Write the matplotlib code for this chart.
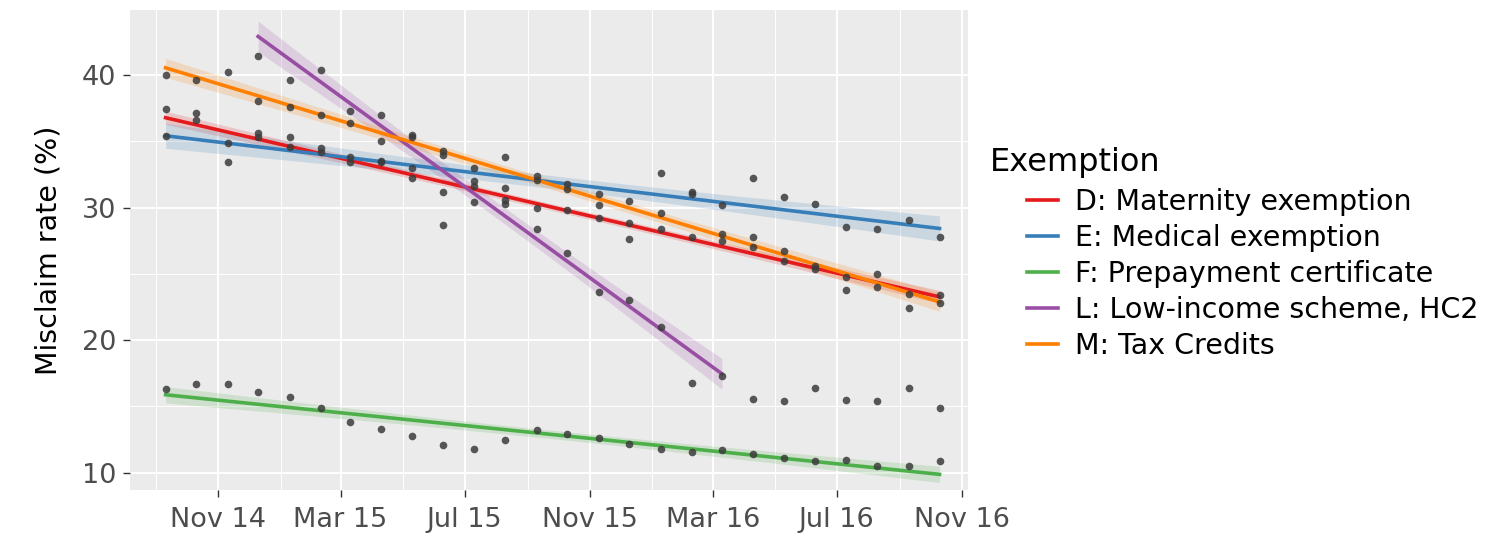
import numpy as np
import pandas as pd
import matplotlib
matplotlib.use("Agg")
import matplotlib.pyplot as plt
import matplotlib.dates as mdates
from matplotlib.lines import Line2D

# Monthly observation dates (Sep 2014 - Oct 2016)
months = pd.date_range("2014-09-01", periods=26, freq="MS") + pd.Timedelta(days=9)

nan = np.nan
# Misclaim rate (%) by exemption category
maternity = [37.4, 36.6, 33.4, 35.6, 35.3, 34.2, 33.8, 33.4, 32.2, 31.2,
             31.6, 30.3, 30.0, 29.8, 29.2, 28.8, 28.4, 27.8, 28.0, 27.0,
             26.0, 25.6, 24.8, 24.0, 23.5, 22.8]
medical = [35.4, 37.1, 34.9, 35.3, 34.6, 34.5, 33.4, 33.5, 33.0, 28.7,
           32.0, 31.5, 32.1, 31.4, 31.0, 30.5, 32.6, 31.2, 30.2, 32.2,
           30.8, 30.3, 28.5, 28.4, 29.1, 27.8]
prepayment = [16.3, 16.7, 16.7, 16.1, 15.7, 14.9, 13.8, 13.3, 12.8, 12.1,
              11.8, 12.5, 13.2, 12.9, 12.6, 12.2, 11.8, 11.6, 11.7, 11.4,
              11.1, 10.9, 11.0, 10.5, 10.5, 10.9]
low_income = [nan, nan, nan, 41.4, 39.6, 40.4, 37.3, 37.0, 35.5, 34.0,
              30.4, 30.6, 28.4, 26.6, 23.6, 23.0, 21.0, 16.8, 17.3, 15.6,
              15.4, 16.4, 15.5, 15.4, 16.4, 14.9]
tax_credits = [40.0, 39.6, 40.2, 38.0, 37.6, 37.0, 36.4, 35.0, 35.3, 34.3,
               33.0, 33.8, 32.4, 31.8, 30.2, 27.6, 29.6, 31.0, 27.5, 27.8,
               26.7, 25.4, 23.8, 25.0, 22.4, 23.4]

labels = ["D: Maternity exemption", "E: Medical exemption",
          "F: Prepayment certificate", "L: Low-income scheme, HC2",
          "M: Tax Credits"]
series = [maternity, medical, prepayment, low_income, tax_credits]
colors = ["#E41A1C", "#377EB8", "#4DAF4A", "#984EA3", "#FF7F00"]
# last date used for each linear trend (low-income trend stops at Mar 2016)
trend_end = [None, None, None, pd.Timestamp("2016-03-31"), None]

tick_dates = pd.date_range("2014-11-01", "2016-11-01", freq="4MS")
tick_labels = ["Nov 14", "Mar 15", "Jul 15", "Nov 15", "Mar 16", "Jul 16", "Nov 16"]

fig = plt.figure(figsize=(15.04, 5.33), dpi=100)
ax = fig.add_axes([130 / 1504, 43 / 533, 838 / 1504, 480 / 533])
ax.set_facecolor("#EBEBEB")
for s in ax.spines.values():
    s.set_visible(False)

xnum_all = mdates.date2num(months)

for vals, col, end in zip(series, colors, trend_end):
    y = np.asarray(vals, dtype=float)
    ok = ~np.isnan(y)
    ax.plot(months[ok], y[ok], "o", ms=5.5, color="#3C3C3C", alpha=0.85, zorder=4,
            markeredgewidth=0)
    fitmask = ok.copy()
    if end is not None:
        fitmask &= (months <= end)
    xf = xnum_all[fitmask]
    yf = y[fitmask]
    b, a = np.polyfit(xf, yf, 1)
    xs = np.linspace(xf.min(), xf.max(), 100)
    yhat = a + b * xs
    n = len(xf)
    resid = yf - (a + b * xf)
    s_err = np.sqrt(np.sum(resid ** 2) / (n - 2))
    sxx = np.sum((xf - xf.mean()) ** 2)
    tq = 1.96 + 2.4 / (n - 2)
    band = tq * s_err * np.sqrt(1 / n + (xs - xf.mean()) ** 2 / sxx)
    ax.fill_between(mdates.num2date(xs), yhat - band, yhat + band,
                    color=col, alpha=0.18, lw=0, zorder=2)
    ax.plot(mdates.num2date(xs), yhat, color=col, lw=2.6, zorder=3)

ax.set_ylim(8.7, 44.9)
ax.set_xlim(pd.Timestamp("2014-08-06"), pd.Timestamp("2016-11-07"))
ax.set_yticks([10, 20, 30, 40])
ax.set_yticks([15, 25, 35], minor=True)
ax.set_xticks(tick_dates)
ax.set_xticklabels(tick_labels)
ax.xaxis.set_minor_locator(mdates.MonthLocator(bymonth=[1, 5, 9]))
ax.grid(which="major", color="white", lw=1.4, zorder=0)
ax.grid(which="minor", color="white", lw=0.7, zorder=0)
ax.set_axisbelow(True)
ax.tick_params(which="major", length=5, width=1, color="#333333",
               labelsize=19.5, labelcolor="#4D4D4D")
ax.tick_params(axis="x", pad=7)
ax.tick_params(axis="y", pad=5)
ax.tick_params(which="minor", length=0)
ax.set_ylabel("Misclaim rate (%)", fontsize=20.5, labelpad=14)

fig.text(990 / 1504, 1 - 162 / 533, "Exemption", fontsize=23, va="center", ha="left")
handles = [Line2D([], [], color=c, lw=2.6) for c in colors]
leg = fig.legend(handles, labels, loc="upper left",
                 bbox_to_anchor=(1027 / 1504, 1 - 188 / 533), frameon=False,
                 fontsize=20.5, handlelength=1.1,
                 handletextpad=0.6, labelspacing=0.28, borderaxespad=0,
                 borderpad=0)

fig.savefig("out.png", dpi=100)
